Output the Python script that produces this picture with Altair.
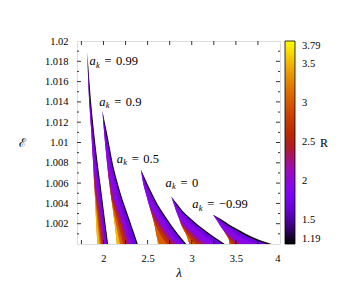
import altair as alt
import pandas as pd

# colour levels (R) used for the strips of each band
R_LEVELS = [1.19, 1.7, 1.95, 2.3, 2.65, 3.05, 3.55]

# rows: energy E; lambda list = [left edge, right bound of R=3.55, 3.05, 2.65, 2.3, 1.95, 1.7, 1.19 (outer edge)]
E_099 = [1.0189, 1.0143, 1.0110, 1.0076, 1.0054, 1.0034, 1.0016, 1.0000]
LAM_099 = [
    [1.817, 1.817, 1.817, 1.817, 1.817, 1.817, 1.817, 1.817],
    [1.836, 1.836, 1.836, 1.836, 1.836, 1.839, 1.847, 1.856],
    [1.862, 1.862, 1.862, 1.862, 1.862, 1.873, 1.883, 1.893],
    [1.885, 1.885, 1.885, 1.885, 1.888, 1.914, 1.928, 1.939],
    [1.899, 1.899, 1.899, 1.907, 1.919, 1.944, 1.963, 1.973],
    [1.910, 1.918, 1.930, 1.943, 1.956, 1.973, 1.992, 2.002],
    [1.920, 1.939, 1.953, 1.969, 1.982, 1.999, 2.018, 2.028],
    [1.931, 1.957, 1.975, 1.992, 2.006, 2.023, 2.042, 2.052],
]

E_090 = [1.0131, 1.0110, 1.0093, 1.0076, 1.0058, 1.0044, 1.0029, 1.0016, 1.0000]
LAM_090 = [
    [1.988, 1.988, 1.988, 1.988, 1.988, 1.988, 1.988, 1.988],
    [2.007, 2.007, 2.007, 2.007, 2.007, 2.014, 2.027, 2.038],
    [2.025, 2.025, 2.025, 2.025, 2.025, 2.048, 2.065, 2.075],
    [2.044, 2.044, 2.044, 2.044, 2.047, 2.081, 2.101, 2.113],
    [2.069, 2.069, 2.069, 2.069, 2.086, 2.130, 2.157, 2.168],
    [2.090, 2.090, 2.090, 2.101, 2.120, 2.169, 2.202, 2.215],
    [2.113, 2.118, 2.138, 2.160, 2.183, 2.223, 2.261, 2.275],
    [2.132, 2.149, 2.177, 2.206, 2.232, 2.268, 2.313, 2.326],
    [2.151, 2.186, 2.223, 2.257, 2.285, 2.323, 2.373, 2.388],
]

E_050 = [1.00733, 1.00584, 1.00485, 1.00386, 1.00287, 1.00188, 1.00089, 1.00000]
LAM_050 = [
    [2.424, 2.424, 2.424, 2.424, 2.424, 2.424, 2.424, 2.424],
    [2.453, 2.453, 2.453, 2.453, 2.453, 2.475, 2.490, 2.503],
    [2.484, 2.484, 2.484, 2.484, 2.484, 2.524, 2.544, 2.558],
    [2.515, 2.515, 2.515, 2.515, 2.518, 2.575, 2.602, 2.617],
    [2.548, 2.548, 2.548, 2.552, 2.581, 2.638, 2.674, 2.689],
    [2.578, 2.578, 2.590, 2.615, 2.649, 2.706, 2.752, 2.768],
    [2.600, 2.600, 2.649, 2.694, 2.734, 2.785, 2.836, 2.853],
    [2.617, 2.626, 2.717, 2.768, 2.814, 2.865, 2.920, 2.939],
]

E_000 = [1.00468, 1.00386, 1.00317, 1.00248, 1.00188, 1.00139, 1.00089, 1.00040, 1.00000]
LAM_000 = [
    [2.768, 2.768, 2.768, 2.768, 2.768, 2.768, 2.768, 2.768],
    [2.800, 2.800, 2.800, 2.800, 2.800, 2.814, 2.828, 2.842],
    [2.826, 2.826, 2.826, 2.826, 2.826, 2.863, 2.889, 2.905],
    [2.857, 2.857, 2.857, 2.857, 2.861, 2.933, 2.973, 2.991],
    [2.882, 2.882, 2.882, 2.888, 2.910, 3.001, 3.051, 3.072],
    [2.910, 2.910, 2.916, 2.933, 2.967, 3.067, 3.125, 3.147],
    [2.939, 2.939, 2.956, 2.990, 3.030, 3.132, 3.200, 3.223],
    [2.959, 2.959, 2.995, 3.041, 3.092, 3.206, 3.282, 3.307],
    [2.976, 2.976, 3.041, 3.098, 3.155, 3.268, 3.348, 3.374],
]

E_M099 = [1.00287, 1.00238, 1.00188, 1.00139, 1.00089, 1.00040, 1.00000]
LAM_M099 = [
    [3.242, 3.242, 3.242, 3.242, 3.242, 3.242, 3.242, 3.242],
    [3.280, 3.280, 3.280, 3.280, 3.280, 3.299, 3.320, 3.342],
    [3.317, 3.317, 3.317, 3.317, 3.317, 3.363, 3.402, 3.431],
    [3.356, 3.356, 3.356, 3.356, 3.358, 3.439, 3.500, 3.535],
    [3.393, 3.393, 3.393, 3.398, 3.422, 3.518, 3.600, 3.640],
    [3.422, 3.422, 3.427, 3.450, 3.484, 3.620, 3.723, 3.768],
    [3.427, 3.427, 3.450, 3.495, 3.552, 3.734, 3.853, 3.905],
]

BANDS = [("0.99", E_099, LAM_099), ("0.9", E_090, LAM_090), ("0.5", E_050, LAM_050),
         ("0", E_000, LAM_000), ("-0.99", E_M099, LAM_M099)]

# annotation labels
LABEL_VAL = ["0.99", "0.9", "0.5", "0", "\u22120.99"]
LABEL_LAM = [1.842, 1.953, 2.151, 2.703, 3.007]
LABEL_E = [1.01802, 1.01401, 1.00842, 1.00601, 1.00394]

# axis ticks / labels
X_LABELS = [2, 2.5, 3, 3.5, 4]
X_TICKS = [1.75, 2.0, 2.25, 2.5, 2.75, 3.0, 3.25, 3.5, 3.75]
Y_LABELS = [1.002, 1.004, 1.006, 1.008, 1.01, 1.012, 1.014, 1.016, 1.018, 1.02]
Y_MAJOR = [1.002, 1.004, 1.006, 1.008, 1.010, 1.012, 1.014, 1.016, 1.018]
Y_MINOR = [1.001, 1.003, 1.005, 1.007, 1.009, 1.011, 1.013, 1.015, 1.017, 1.019]
R_TICKS = [1.19, 1.5, 2, 2.5, 3, 3.5, 3.79]

# gnuplot-like palette stops
PAL_DOMAIN = [1.19, 1.515, 1.84, 2.165, 2.49, 2.815, 3.14, 3.465, 3.79]
PAL_RANGE = ["#000000", "#5A00B4", "#8004FF", "#9C0DB4", "#B42000",
             "#CA3E00", "#DD6C00", "#EFAB00", "#FFFF00"]

W, H = 203, 203
FONT = "Liberation Serif"

records = []
for name, Es, rows in BANDS:
    for E, row in zip(Es, rows):
        for k, R in enumerate(R_LEVELS):
            # strip of level k reaches from bound of level k+2 to bound of level k,
            # the part left of the level k+1 bound is painted over by the next level
            records.append({"band": name, "level": k, "R": R, "E": E,
                            "lo": row[max(0, 5 - k)], "hi": row[7 - k]})
df = pd.DataFrame(records)

xscale = alt.Scale(domain=[1.7, 4], nice=False, zero=False)
yscale = alt.Scale(domain=[1.0, 1.02], nice=False, zero=False)
xaxis = alt.Axis(values=X_LABELS, format=".1~f", ticks=False, domain=False, grid=False,
                 labelFont=FONT, labelFontSize=10.5, labelPadding=9, labelColor="black",
                 title="\u03bb", titleFont=FONT, titleFontSize=13, titleFontStyle="italic",
                 titleFontWeight="normal", titlePadding=3, titleColor="black")
yaxis = alt.Axis(values=Y_LABELS, format=".3~f", ticks=False, domain=False, grid=False,
                 labelFont=FONT, labelFontSize=10.5, labelPadding=9, labelColor="black",
                 title="\u2130", titleFont="DejaVu Serif", titleFontSize=12,
                 titleFontWeight="normal", titleAngle=0, titleAlign="center",
                 titleBaseline="middle", titleX=-55, titleY=101, titleColor="black")

color_enc = alt.Color("R:Q", scale=alt.Scale(domain=PAL_DOMAIN, range=PAL_RANGE, interpolate="rgb"),
                      legend=alt.Legend(title=None, orient="right", offset=5, padding=0,
                                        gradientLength=H, gradientThickness=10,
                                        gradientStrokeColor="black", gradientStrokeWidth=0.8,
                                        values=R_TICKS, format=".3~g", labelFont=FONT,
                                        labelFontSize=10.5, labelOffset=7, labelOverlap=False,
                                        labelColor="black"))

layers = []
for k in range(len(R_LEVELS)):
    sub = df[df["level"] == k]
    layers.append(
        alt.Chart(sub).mark_area(orient="horizontal", interpolate="monotone").encode(
            y=alt.Y("E:Q", scale=yscale, axis=yaxis),
            x=alt.X("lo:Q", scale=xscale, axis=xaxis, stack=None),
            x2="hi:Q",
            color=color_enc,
            detail="band:N",
        )
    )

xt = pd.DataFrame({"t": X_TICKS})
ymaj = pd.DataFrame({"t": Y_MAJOR})
ymin = pd.DataFrame({"t": Y_MINOR})
rule = dict(color="black", strokeWidth=0.8)
X = alt.X("t:Q", scale=xscale, axis=xaxis)
Y = alt.Y("t:Q", scale=yscale, axis=yaxis)
layers += [
    alt.Chart(xt).mark_rule(**rule).encode(x=X, y=alt.value(H), y2=alt.value(H - 4)),
    alt.Chart(xt).mark_rule(**rule).encode(x=X, y=alt.value(0), y2=alt.value(4)),
    alt.Chart(ymaj).mark_rule(**rule).encode(y=Y, x=alt.value(0), x2=alt.value(4)),
    alt.Chart(ymaj).mark_rule(**rule).encode(y=Y, x=alt.value(W), x2=alt.value(W - 4)),
    alt.Chart(ymin).mark_rule(**rule).encode(y=Y, x=alt.value(0), x2=alt.value(2)),
    alt.Chart(ymin).mark_rule(**rule).encode(y=Y, x=alt.value(W), x2=alt.value(W - 2)),
]

lab = pd.DataFrame({"lam": LABEL_LAM, "E": LABEL_E, "val": LABEL_VAL})
LX = alt.X("lam:Q", scale=xscale, axis=xaxis)
LY = alt.Y("E:Q", scale=yscale, axis=yaxis)
txt = dict(font=FONT, align="left", baseline="middle", color="black")
layers += [
    alt.Chart(lab).mark_text(fontSize=12.5, fontStyle="italic", **txt).encode(
        x=LX, y=LY, text=alt.value("a")),
    alt.Chart(lab).mark_text(fontSize=8.5, fontStyle="italic", dx=6.5, dy=3.5, **txt).encode(
        x=LX, y=LY, text=alt.value("k")),
    alt.Chart(lab).mark_text(fontSize=12.5, dx=15, **txt).encode(
        x=LX, y=LY, text=alt.value("=")),
    alt.Chart(lab).mark_text(fontSize=12.5, dx=26.5, **txt).encode(
        x=LX, y=LY, text="val:N"),
    alt.Chart(lab.head(1)).mark_text(fontSize=12, font=FONT, align="center", baseline="middle",
                                     color="black").encode(
        x=alt.value(W + 44), y=alt.value(H / 2), text=alt.value("R")),
]

chart = alt.layer(*layers).properties(
    width=W, height=H,
    padding={"left": 69, "top": 33, "right": 62, "bottom": 40},
    autosize=alt.AutoSizeParams(type="none"),
).configure_view(stroke="black", strokeWidth=1).configure(background="white")

chart.save("out.html", embed_options={"renderer": "svg", "actions": False})
